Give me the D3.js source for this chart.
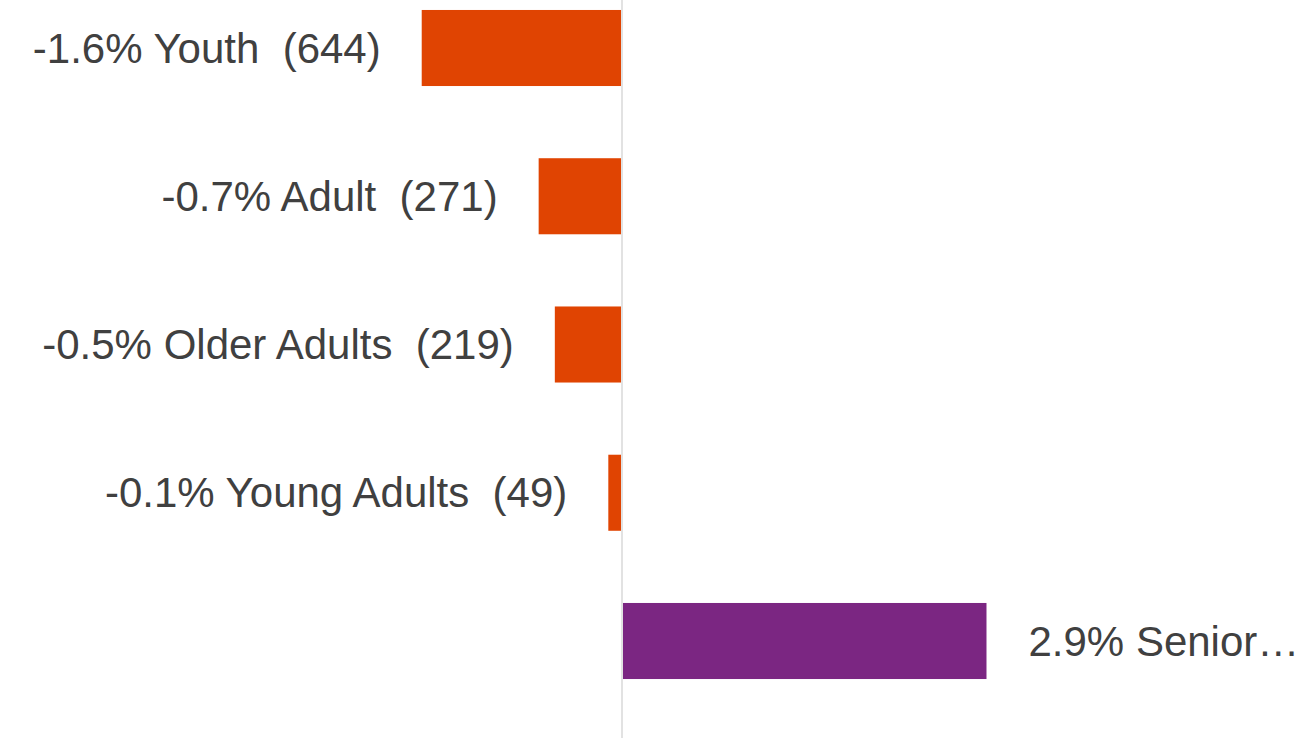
<!DOCTYPE html>
<html>
<head>
<meta charset="utf-8">
<script src="https://cdn.jsdelivr.net/npm/d3@7/dist/d3.min.js"></script>
<style>
  html, body { margin: 0; padding: 0; background: #fff; }
  svg { display: block; }
  text { font-family: "Liberation Sans", Arial, sans-serif; white-space: pre; }
</style>
</head>
<body>
<svg id="chart" width="1306" height="738"></svg>
<script>
// Data
const categories = ["Youth", "Adult", "Older Adults", "Young Adults", "Senior…"];
const changePct = [-1.61, -0.67, -0.54, -0.11, 2.93];
const counts = [644, 271, 219, 49, null];

const W = 1306, H = 738;
const svg = d3.select("#chart");

const x = d3.scaleLinear().domain([-5, 5]).range([0, 1244]);
const y = d3.scaleBand()
  .domain(categories)
  .range([48 - 148.25 / 2, 641 + 148.25 / 2])
  .paddingInner(0.487)
  .paddingOuter(0.2435);

const data = categories.map((c, i) => ({ name: c, value: changePct[i], count: counts[i] }));

const negColor = "#E04402";
const posColor = "#7B2682";
const textColor = "#404040";

const fmt = v => d3.format(".1f")(v).replace("\u2212", "-");

// bars
svg.append("g").selectAll("rect").data(data).join("rect")
  .attr("x", d => d.value < 0 ? x(d.value) : x(0) + 1)
  .attr("width", d => d.value < 0 ? x(0) - 1 - x(d.value) : x(d.value) - x(0) - 1)
  .attr("y", d => y(d.name))
  .attr("height", y.bandwidth())
  .attr("fill", d => d.value < 0 ? negColor : posColor);

// zero line
svg.append("line")
  .attr("x1", x(0)).attr("x2", x(0))
  .attr("y1", 0).attr("y2", H)
  .attr("stroke", "#d9d9d9").attr("stroke-width", 1.5);

// labels
const gap = 41;
svg.append("g").selectAll("text").data(data).join("text")
  .attr("x", d => d.value < 0 ? x(d.value) - gap : x(d.value) + gap + 1)
  .attr("y", d => y(d.name) + y.bandwidth() / 2)
  .attr("dy", "0.35em")
  .attr("text-anchor", d => d.value < 0 ? "end" : "start")
  .attr("font-size", 42)
  .attr("fill", textColor)
  .text(d => `${fmt(d.value)}% ${d.name}` + (d.count != null ? `  (${d.count})` : ""));
</script>
</body>
</html>
